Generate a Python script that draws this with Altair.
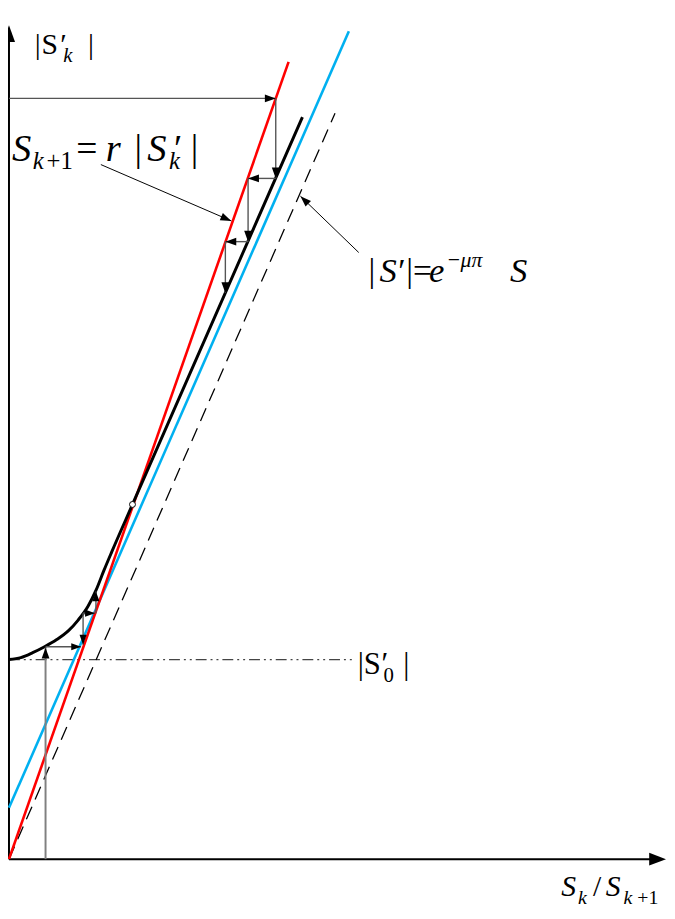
import math
import altair as alt
import pandas as pd

# ---------------- diagram data (units = px from the axes origin, v upward) ----------------
red_u = [0, 283]
red_v = [0, 807]                      # S_{k+1} = r |S'_k|
blue_u = [0, 344]
blue_v = [52, 838]                    # asymptote of the black curve
dash_u = [0, 330]
dash_v = [0, 755]                     # |S'| = e^{-mu pi} S
curve_u = [0, 12, 24, 36, 48, 60, 70, 80, 88, 96, 104, 125, 297]
curve_v = [202, 204, 209, 215, 222, 231, 242, 256, 272, 292, 311, 359, 751]
fixed_u = [125]
fixed_v = [359]
s0_level = 202
s0_end = 350

# cobweb steps (arrow at the end point)
top_u1 = [0, 270, 270, 242, 242, 219]
top_v1 = [770, 770, 689, 689, 625, 625]
top_u2 = [270, 270, 242, 242, 219, 219]
top_v2 = [770, 689, 689, 625, 625, 573]

start_u1 = [37]
start_v1 = [0]
start_u2 = [37]
start_v2 = [214]

bot_u1 = [37, 75, 75, 88]
bot_v1 = [215, 249, 249, 249]
bot_u2 = [73, 75, 87, 88]
bot_v2 = [215, 217, 249, 271]

# leader arrows of the labels
lead_u1 = [93, 354]
lead_v1 = [703, 614]
lead_u2 = [225, 295]
lead_v2 = [646, 671]

# axes
yaxis_top = 844
xaxis_end = 665

# label pieces: text, u, v, font size
upright_text = [
    ("|", 26, 815, 30), ("S", 33, 815, 30), ("\u2032", 52, 815, 30), ("|", 80, 815, 30),
    ("+1", 38, 699, 25), ("=", 68, 707, 38), ("|", 127, 707, 38), ("\u2032", 167, 707, 38), ("|", 184, 707, 38),
    ("|", 364, 584, 34), ("\u2032", 394, 584, 34), ("|", 402, 584, 34), ("=", 409, 584, 34), ("\u2212", 444, 599, 22),
    ("|", 353, 187, 31), ("S", 359, 187, 31), ("\u2032", 377, 187, 31), ("0", 379, 179, 21), ("|", 399, 187, 31),
    ("/", 591, -37, 30), ("+1", 636, -45, 20),
]
italic_text = [
    ("k", 55, 807, 21),
    ("S", 3, 707, 39), ("k", 24, 699, 25), ("r", 98, 707, 39), ("S", 140, 707, 39), ("k", 162, 699, 25),
    ("S", 375, 584, 35), ("e", 425, 584, 35), ("\u03bc\u03c0", 457, 599, 22), ("S", 507, 584, 35),
    ("S", 559, -37, 30), ("k", 576, -45, 20), ("S", 604, -37, 30), ("k", 622, -45, 20),
]

# ---------------- chart ----------------
W, H = 667, 903
OX, OY = 9, 864
xs = alt.Scale(domain=[8 - OX, 8 + W - OX], nice=False, zero=False)
ys = alt.Scale(domain=[OY - 8 - H, OY - 8], nice=False, zero=False)
FONT = "Liberation Serif"


def XX(f):
    return alt.X(f"{f}:Q", scale=xs, axis=None)


def YY(f):
    return alt.Y(f"{f}:Q", scale=ys, axis=None)


def line_layer(us, vs, **kw):
    df = pd.DataFrame({"u": us, "v": vs})
    return alt.Chart(df).mark_line(**kw).encode(x=XX("u"), y=YY("v"))


def rule_layer(u1, v1, u2, v2, **kw):
    df = pd.DataFrame({"u1": u1, "v1": v1, "u2": u2, "v2": v2})
    return alt.Chart(df).mark_rule(**kw).encode(x=XX("u1"), y=YY("v1"), x2="u2:Q", y2="v2:Q")


def arrow_layer(u1, v1, u2, v2, L=10, width=0.36):
    ang = [(math.degrees(math.atan2(b - a, d - c)) + 360) % 360 for a, b, c, d in zip(u1, u2, v1, v2)]
    df = pd.DataFrame({"u": u2, "v": v2, "a": ang})
    shape = f"M0,0L-{width},1L{width},1Z"
    return alt.Chart(df).mark_point(shape=shape, filled=True, color="black", opacity=1,
                                    size=4 * L * L).encode(
        x=XX("u"), y=YY("v"), angle=alt.Angle("a:Q", scale=None))


def text_layer(items, style):
    df = pd.DataFrame(items, columns=["t", "u", "v", "s"])
    return alt.Chart(df).mark_text(align="left", baseline="alphabetic", font=FONT,
                                   fontStyle=style, color="black").encode(
        x=XX("u"), y=YY("v"), text="t:N", size=alt.Size("s:Q", scale=None))


layers = [
    # axes
    rule_layer([0], [0], [0], [yaxis_top - 12], color="black", strokeWidth=2),
    rule_layer([0], [0], [xaxis_end - 12], [0], color="black", strokeWidth=2),
    arrow_layer([0], [0], [0], [yaxis_top], L=17, width=0.36),
    arrow_layer([0], [0], [xaxis_end], [0], L=17, width=0.38),
    # S'_0 level
    rule_layer([0], [s0_level], [s0_end], [s0_level], color="#444444", strokeWidth=1.3,
               strokeDash=[11, 4, 2, 4, 2, 4]),
    # lines
    line_layer(dash_u, dash_v, color="black", strokeWidth=1.3, strokeDash=[14, 8]),
    line_layer(blue_u, blue_v, color="#00b0f0", strokeWidth=2.6),
    line_layer(red_u, red_v, color="#ff0000", strokeWidth=2.6),
    line_layer(curve_u, curve_v, color="black", strokeWidth=3, interpolate="monotone"),
    # cobwebs
    rule_layer(start_u1, start_v1, start_u2, start_v2, color="#808080", strokeWidth=2),
    rule_layer(top_u1, top_v1, top_u2, top_v2, color="#555555", strokeWidth=1.4),
    rule_layer(bot_u1, bot_v1, bot_u2, bot_v2, color="#555555", strokeWidth=1.4),
    arrow_layer(start_u1, start_v1, start_u2, start_v2, L=11),
    arrow_layer(top_u1, top_v1, top_u2, top_v2, L=11),
    arrow_layer(bot_u1, bot_v1, bot_u2, bot_v2, L=10),
    # leaders
    rule_layer(lead_u1, lead_v1, lead_u2, lead_v2, color="black", strokeWidth=1),
    arrow_layer(lead_u1, lead_v1, lead_u2, lead_v2, L=11),
    # fixed point
    alt.Chart(pd.DataFrame({"u": fixed_u, "v": fixed_v})).mark_point(
        shape="circle", size=36, filled=True, fill="white", stroke="black", strokeWidth=1, opacity=1
    ).encode(x=XX("u"), y=YY("v")),
    # labels
    text_layer(upright_text, "normal"),
    text_layer(italic_text, "italic"),
]

chart = alt.layer(*layers).properties(
    width=W, height=H, padding=0, autosize="none", background="white"
).configure_view(stroke=None).configure_text(font=FONT)

chart.save("out.html", embed_options={"renderer": "svg", "actions": False})
